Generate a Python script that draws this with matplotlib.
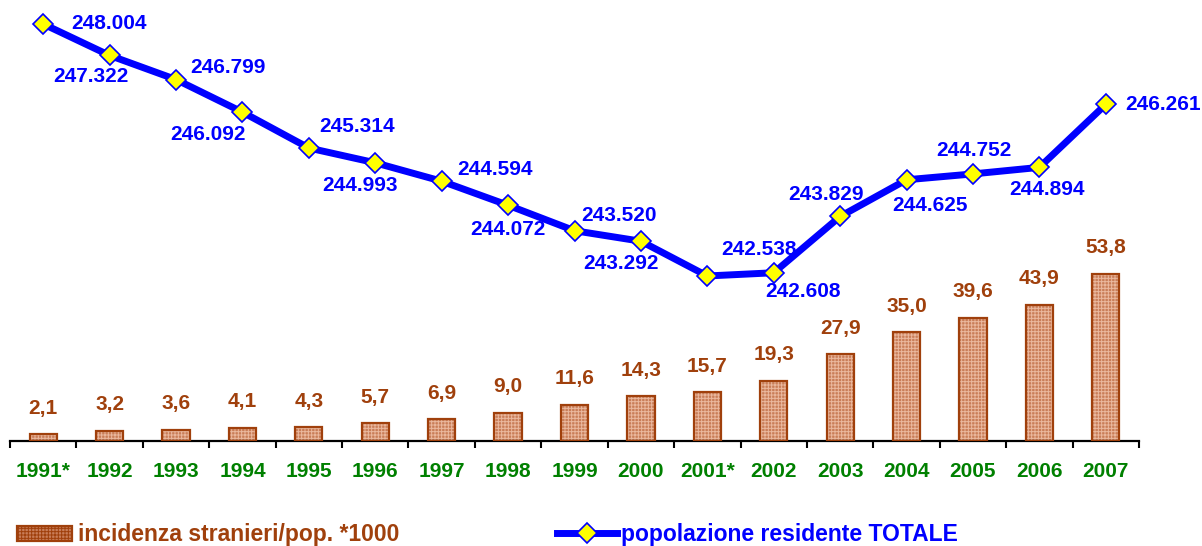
import numpy as np
import matplotlib
matplotlib.use("Agg")
import matplotlib.pyplot as plt
import matplotlib.patches as mpatches
from matplotlib.lines import Line2D

plt.rcParams['font.family'] = ['Liberation Sans', 'DejaVu Sans']
plt.rcParams['font.weight'] = 'bold'
plt.rcParams['hatch.linewidth'] = 0.7

years = ["1991*", "1992", "1993", "1994", "1995", "1996", "1997", "1998", "1999",
         "2000", "2001*", "2002", "2003", "2004", "2005", "2006", "2007"]
incidenza = [2.1, 3.2, 3.6, 4.1, 4.3, 5.7, 6.9, 9.0, 11.6, 14.3, 15.7, 19.3,
             27.9, 35.0, 39.6, 43.9, 53.8]
popolazione = [248.004, 247.322, 246.799, 246.092, 245.314, 244.993, 244.594,
               244.072, 243.520, 243.292, 242.538, 242.608, 243.829, 244.625,
               244.752, 244.894, 246.261]

# label offsets (pixels) relative to each marker
pop_offsets = [(66, 0), (-19, -21), (52, 12), (-34, -22), (48, 22), (-15, -23),
               (53, 12), (0, -24), (45, 15), (-20, -22), (52, 26), (29, -19),
               (-14, 22), (23, -26), (1, 23), (8, -22), (57, 0)]

BROWN = "#a0400c"
BLUE = "#0000ff"
GREEN = "#008000"
BAR_FACE = "#c97d58"
BAR_HATCH = "#eab89e"
FS = 15
LEG_FS = 16.5

W, H = 1202, 546
fig = plt.figure(figsize=(W / 100, H / 100), dpi=100)
ax = fig.add_axes([10 / W, 105.3 / H, 1129 / W, 435.7 / H])
ax2 = ax.twinx()

x = np.arange(len(years))

# bars: textured fill + outline
ax.bar(x, incidenza, width=0.41, color=BAR_FACE, hatch="+++++",
       edgecolor=BAR_HATCH, linewidth=0, zorder=2)
ax.bar(x, incidenza, width=0.41, fill=False, edgecolor=BROWN, linewidth=1.6, zorder=3)
for xi, v in zip(x, incidenza):
    ax.annotate(f"{v:.1f}".replace(".", ","), (xi, v), xytext=(0, 26),
                textcoords="offset pixels", ha="center", va="center",
                color=BROWN, fontsize=FS, fontweight="bold")

ax.set_xlim(-0.5, len(years) - 0.5)
ax.set_ylim(0, 140.6)
ax.set_xticks(x)
ax.set_xticklabels(years, color=GREEN, fontsize=FS, fontweight="bold")
ax.set_xticks(np.arange(-0.5, len(years)), minor=True)
ax.tick_params(axis="x", which="major", length=0, pad=15.5)
ax.tick_params(axis="x", which="minor", length=5, width=1.5, direction="out", color="black")
ax.set_yticks([])
for s in ["top", "left", "right"]:
    ax.spines[s].set_visible(False)
ax.spines["bottom"].set_linewidth(1.6)

# population line
ax2.plot(x, popolazione, color=BLUE, linewidth=5, marker="D", markersize=10,
         markerfacecolor="#ffff00", markeredgecolor=BLUE, markeredgewidth=1.2,
         zorder=4, clip_on=False)
for xi, v, (dx, dy) in zip(x, popolazione, pop_offsets):
    ax2.annotate(f"{v:.3f}", (xi, v), xytext=(dx, dy), textcoords="offset pixels",
                 ha="center", va="center", color=BLUE, fontsize=FS, fontweight="bold")
ax2.set_ylim(238.965, 248.416)
ax2.set_yticks([])
for s in ["top", "left", "right", "bottom"]:
    ax2.spines[s].set_visible(False)

# legends
bar_handle = mpatches.Patch(facecolor=BAR_FACE, edgecolor=BROWN, hatch="+++++",
                            linewidth=1.6)
line_handle = Line2D([], [], color=BLUE, linewidth=5, marker="D", markersize=10,
                     markerfacecolor="#ffff00", markeredgecolor=BLUE, markeredgewidth=1.2)
fig.legend(handles=[bar_handle], labels=["incidenza stranieri/pop. *1000"],
           loc="center left", bbox_to_anchor=(17 / W, 1 - 535 / H), frameon=False,
           labelcolor=BROWN, handlelength=2.4, handleheight=0.65,
           handletextpad=0.25, borderpad=0, borderaxespad=0,
           prop={"weight": "bold", "size": LEG_FS})
fig.legend(handles=[line_handle], labels=["popolazione residente TOTALE"],
           loc="center left", bbox_to_anchor=(557 / W, 1 - 535 / H), frameon=False,
           labelcolor=BLUE, handlelength=2.6, handletextpad=0.2, borderpad=0,
           borderaxespad=0, prop={"weight": "bold", "size": LEG_FS})

fig.savefig("out.png", dpi=100)
